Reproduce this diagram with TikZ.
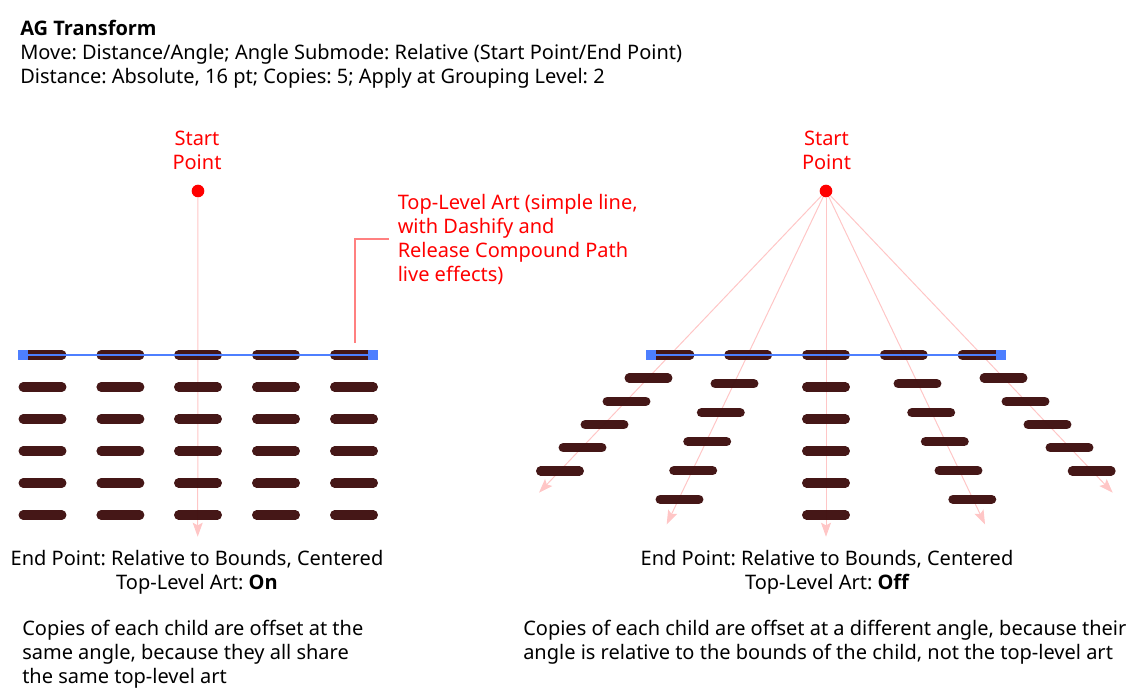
\documentclass[tikz,border=0pt]{standalone}
\usepackage{fontspec}
\usepackage{tikz}
\usetikzlibrary{arrows.meta}
\setmainfont{Noto Sans}
\newfontfamily\boldfam{Open Sans}
\frenchspacing
\definecolor{dashred}{HTML}{3F1010}
\definecolor{rayred}{HTML}{FFC6C6}
\definecolor{leadred}{HTML}{FF8080}
\definecolor{handleblue}{HTML}{4D7FFF}
\begin{document}
\begin{tikzpicture}[x=0.75pt,y=-0.75pt,
  ray/.style={rayred,line width=0.75pt,-{Stealth[length=10.5pt,width=7.5pt,inset=2pt]}},
  dashbar/.style={dashred,line width=7pt,line cap=round,opacity=0.97},
  handle/.style={fill=handleblue,inner sep=0pt,minimum size=7.8pt},
  startdot/.style={circle,fill=red,inner sep=0pt,minimum size=9.5pt},
  txt/.style={font=\fontsize{15pt}{18pt}\selectfont,inner sep=0pt},
  redtxt/.style={txt,text=red,align=center}]
\useasboundingbox (0,0) rectangle (1143,700);
% header
\node [txt,anchor=west,align=left] (header) at (20,54) {{\boldfam\bfseries AG Transform}\\Move: Distance/Angle; Angle Submode: Relative (Start Point/End Point)\\Distance: Absolute, 16 pt; Copies: 5; Apply at Grouping Level: 2};
% start points
\node [redtxt] (startlabelL) at (197,150) {Start\\Point};
\node [redtxt] (startlabelR) at (826.5,150) {Start\\Point};
\node [startdot] (startL) at (198,191) {};
\node [startdot] (startR) at (826,191) {};
% ray ends
\coordinate (endL) at (197.7,536.7);
\coordinate (endA) at (539,492.7);
\coordinate (endB) at (666.7,524.3);
\coordinate (endC) at (826,536.7);
\coordinate (endD) at (985,524.3);
\coordinate (endE) at (1112.7,492.7);
\draw [ray] (startL) -- (endL);
\draw [ray] (startR) -- (endA);
\draw [ray] (startR) -- (endB);
\draw [ray] (startR) -- (endC);
\draw [ray] (startR) -- (endD);
\draw [ray] (startR) -- (endE);
% left dashes
\draw [dashbar] (23.2,355) -- (61.8,355);
\draw [dashbar] (101.1,355) -- (139.7,355);
\draw [dashbar] (178.7,355) -- (217.3,355);
\draw [dashbar] (256.7,355) -- (295.3,355);
\draw [dashbar] (334.7,355) -- (373.3,355);
\draw [dashbar] (23.2,387) -- (61.8,387);
\draw [dashbar] (101.1,387) -- (139.7,387);
\draw [dashbar] (178.7,387) -- (217.3,387);
\draw [dashbar] (256.7,387) -- (295.3,387);
\draw [dashbar] (334.7,387) -- (373.3,387);
\draw [dashbar] (23.2,419) -- (61.8,419);
\draw [dashbar] (101.1,419) -- (139.7,419);
\draw [dashbar] (178.7,419) -- (217.3,419);
\draw [dashbar] (256.7,419) -- (295.3,419);
\draw [dashbar] (334.7,419) -- (373.3,419);
\draw [dashbar] (23.2,451) -- (61.8,451);
\draw [dashbar] (101.1,451) -- (139.7,451);
\draw [dashbar] (178.7,451) -- (217.3,451);
\draw [dashbar] (256.7,451) -- (295.3,451);
\draw [dashbar] (334.7,451) -- (373.3,451);
\draw [dashbar] (23.2,483) -- (61.8,483);
\draw [dashbar] (101.1,483) -- (139.7,483);
\draw [dashbar] (178.7,483) -- (217.3,483);
\draw [dashbar] (256.7,483) -- (295.3,483);
\draw [dashbar] (334.7,483) -- (373.3,483);
\draw [dashbar] (23.2,515) -- (61.8,515);
\draw [dashbar] (101.1,515) -- (139.7,515);
\draw [dashbar] (178.7,515) -- (217.3,515);
\draw [dashbar] (256.7,515) -- (295.3,515);
\draw [dashbar] (334.7,515) -- (373.3,515);
% right dashes
\draw [dashbar] (651.2,355) -- (689.8,355);
\draw [dashbar] (728.9,355) -- (767.5,355);
\draw [dashbar] (806.7,355) -- (845.3,355);
\draw [dashbar] (884.5,355) -- (923.1,355);
\draw [dashbar] (962.3,355) -- (1000.9,355);
\draw [dashbar] (629.2,378) -- (667.8,378);
\draw [dashbar] (607.2,401.3) -- (645.8,401.3);
\draw [dashbar] (585.2,424.7) -- (623.8,424.7);
\draw [dashbar] (563.2,447.7) -- (601.8,447.7);
\draw [dashbar] (540.7,471) -- (579.3,471);
\draw [dashbar] (715.2,383.7) -- (753.8,383.7);
\draw [dashbar] (701.5,412.7) -- (740.1,412.7);
\draw [dashbar] (687.9,441.7) -- (726.5,441.7);
\draw [dashbar] (673.9,470.7) -- (712.5,470.7);
\draw [dashbar] (660.2,499.3) -- (698.8,499.3);
\draw [dashbar] (806.7,387) -- (845.3,387);
\draw [dashbar] (806.7,419) -- (845.3,419);
\draw [dashbar] (806.7,451) -- (845.3,451);
\draw [dashbar] (806.7,483) -- (845.3,483);
\draw [dashbar] (806.7,515) -- (845.3,515);
\draw [dashbar] (898.2,383.7) -- (936.8,383.7);
\draw [dashbar] (911.9,412.7) -- (950.5,412.7);
\draw [dashbar] (925.5,441.7) -- (964.1,441.7);
\draw [dashbar] (939.2,470.7) -- (977.8,470.7);
\draw [dashbar] (953,499.3) -- (991.6,499.3);
\draw [dashbar] (984.2,378) -- (1022.8,378);
\draw [dashbar] (1006.2,401.3) -- (1044.8,401.3);
\draw [dashbar] (1028.2,424.7) -- (1066.8,424.7);
\draw [dashbar] (1050.2,447.7) -- (1088.8,447.7);
\draw [dashbar] (1072.4,471) -- (1111,471);
% top-level art
\node [handle] (handleLa) at (23,354.9) {};
\node [handle] (handleLb) at (373,354.9) {};
\node [handle] (handleRa) at (651,354.9) {};
\node [handle] (handleRb) at (1001,354.9) {};
\draw [handleblue,line width=1.6pt] (handleLa) -- (handleLb);
\draw [handleblue,line width=1.6pt] (handleRa) -- (handleRb);
% callout
\node [redtxt,anchor=west,align=left,inner xsep=6.75pt] (artlabel) at (388.5,239) {Top-Level Art (simple line,\\with Dashify and\\Release Compound Path\\live effects)};
\coordinate (artpoint) at (354.7,342.7);
\draw [leadred,line width=1.2pt] (artpoint) |- (artlabel.west);
% captions
\node [txt,align=center] (captionL) at (197,572) {End Point: Relative to Bounds, Centered\\Top-Level Art: {\boldfam\bfseries On}};
\node [txt,align=center] (captionR) at (827,572) {End Point: Relative to Bounds, Centered\\Top-Level Art: {\boldfam\bfseries Off}};
\node [txt,anchor=west,align=left] (noteL) at (22,654) {Copies of each child are offset at the\\same angle, because they all share\\the same top-level art};
\node [txt,anchor=west,align=left] (noteR) at (523,642) {Copies of each child are offset at a different angle, because their\\angle is relative to the bounds of the child, not the top-level art};
\end{tikzpicture}
\end{document}
